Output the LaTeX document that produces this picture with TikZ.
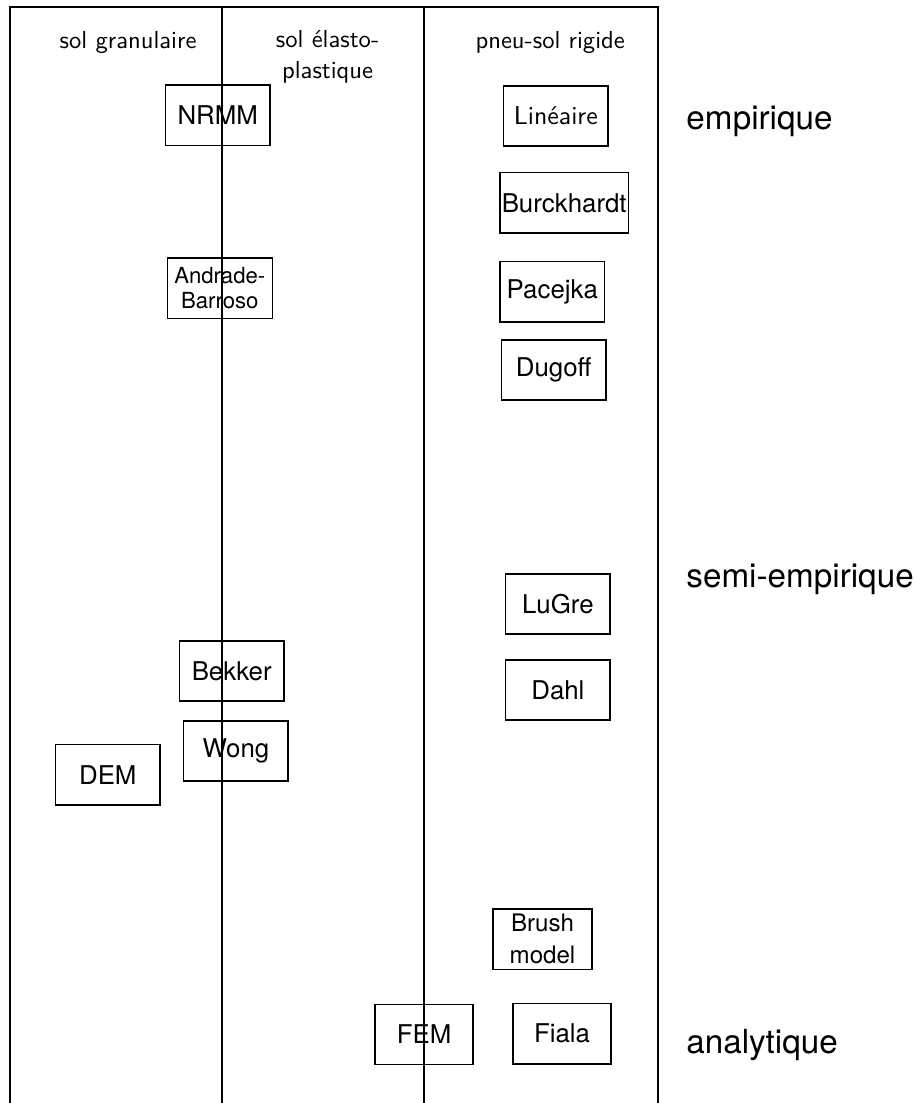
\documentclass[tikz,border=0pt]{standalone}
\usepackage{fontspec}
\newfontfamily\helv{TeX Gyre Heros}
\usepackage{tikz}
\tikzset{>=latex}
\tikzset{
    box/.style={draw, line width=.6pt, minimum width=1.49cm, minimum height=.86cm, inner sep=0pt, font=\helv\fontsize{10.5}{12}\selectfont},
    head/.style={font=\sffamily\fontsize{10}{12.6}\selectfont, align=center, inner sep=0pt},
    level/.style={anchor=base west, inner sep=0pt, font=\helv\fontsize{13.5}{16}\selectfont}
}

\begin{document}
\begin{tikzpicture}
    \useasboundingbox(0, 0)rectangle(13.07, 15.757);
    \draw[line width=.8pt](0.14, 0)--(0.14, 15.66)--(9.40, 15.66)--(9.40, 0);
    \draw[line width=.6pt](3.17, 15.66)--(3.17, 0);
    \draw[line width=.6pt](6.06, 15.66)--(6.06, 0);
    \node[head, anchor=base](granulaire) at (1.83, 15.07){sol granulaire};
    \node[head](elasto) at (4.68, 14.94){sol élasto-\\plastique};
    \node[head, anchor=base](rigide) at (7.86, 15.07){pneu-sol rigide};
    \node[box](nrmm) at (3.11, 14.11){NRMM};
    \node[box, minimum width=1.50cm, align=center, font=\helv\fontsize{9}{10.3}\selectfont](andrade) at (3.14, 11.64){Andrade-\\Barroso};
    \node[box, font=\sffamily\fontsize{10.5}{12}\selectfont](lineaire) at (7.94, 14.10){Linéaire};
    \node[box, minimum width=1.84cm](burckhardt) at (8.06, 12.86){Burckhardt};
    \node[box](pacejka) at (7.89, 11.59){Pacejka};
    \node[box](dugoff) at (7.91, 10.47){Dugoff};
    \node[box](lugre) at (7.97, 7.13){LuGre};
    \node[box](dahl) at (7.97, 5.90){Dahl};
    \node[box](bekker) at (3.31, 6.17){Bekker};
    \node[box](wong) at (3.37, 5.03){Wong};
    \node[box](dem) at (1.54, 4.69){DEM};
    \node[box, minimum width=1.41cm, align=center, font=\helv\fontsize{9.8}{13}\selectfont](brush) at (7.75, 2.34){Brush\\model};
    \node[box, minimum width=1.40cm](fem) at (6.06, 0.98){FEM};
    \node[box, minimum width=1.40cm](fiala) at (8.03, 0.99){Fiala};
    \node[level](empirique) at (9.80, 13.90){empirique};
    \node[level](semi) at (9.80, 7.36){semi-empirique};
    \node[level](analytique) at (9.80, 0.71){analytique};
\end{tikzpicture}
\end{document}
